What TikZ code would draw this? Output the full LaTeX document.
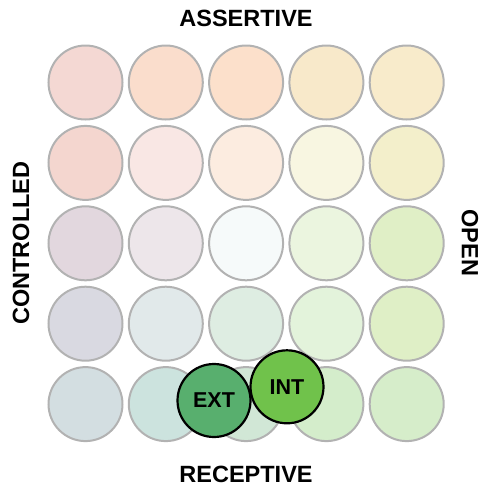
\documentclass[tikz,border=0pt]{standalone}
\usepackage{fontspec}
\setmainfont{Liberation Sans}
\begin{document}
\begin{tikzpicture}[x=1pt,y=-1pt,
  cell/.style={circle, draw=black!30, line width=2pt, minimum size=74pt, inner sep=0pt},
  marker/.style={circle, draw=black, line width=2.2pt, minimum size=73pt, inner sep=0pt,
    font=\fontsize{21.5}{24}\selectfont\bfseries},
  axislabel/.style={font=\fontsize{23.5}{26}\selectfont\bfseries, inner sep=0pt}]
\useasboundingbox (0,0) rectangle (482,488);
% cell colours, row by row from top to bottom
\definecolor{c11}{HTML}{F4D8D3}\definecolor{c12}{HTML}{FADDCC}\definecolor{c13}{HTML}{FCE0CB}\definecolor{c14}{HTML}{F8E9CA}\definecolor{c15}{HTML}{F8EBCB}
\definecolor{c21}{HTML}{F4D6CF}\definecolor{c22}{HTML}{F9E7E4}\definecolor{c23}{HTML}{FCECE0}\definecolor{c24}{HTML}{F8F6E1}\definecolor{c25}{HTML}{F3EFCB}
\definecolor{c31}{HTML}{E2D7DE}\definecolor{c32}{HTML}{EDE6EA}\definecolor{c33}{HTML}{F6FAFA}\definecolor{c34}{HTML}{EBF5DF}\definecolor{c35}{HTML}{E0EFC6}
\definecolor{c41}{HTML}{D9D9E1}\definecolor{c42}{HTML}{E1E9EA}\definecolor{c43}{HTML}{DEEDE2}\definecolor{c44}{HTML}{E3F3DB}\definecolor{c45}{HTML}{DFEFC6}
\definecolor{c51}{HTML}{D3DEE1}\definecolor{c52}{HTML}{CCE3DE}\definecolor{c53}{HTML}{D1E7D6}\definecolor{c54}{HTML}{D4EDCB}\definecolor{c55}{HTML}{D6EDCA}
\definecolor{extgreen}{HTML}{58AF6E}
\definecolor{intgreen}{HTML}{70C24B}
% 5x5 grid of circles
\foreach \r in {1,...,5}{
  \foreach \c in {1,...,5}{
    \node[cell, fill=c\r\c] (cell\r\c) at ({85.5+80.3*(\c-1)},{82.5+80.4*(\r-1)}) {};
  }
}
% axis labels
\node[axislabel] (assertive) at (246,18) {ASSERTIVE};
\node[axislabel] (receptive) at (246,474) {RECEPTIVE};
\node[axislabel, rotate=90] (controlled) at (21,243) {CONTROLLED};
\node[axislabel, rotate=-90] (open) at (470,243) {OPEN};
% position markers
\node[marker, fill=extgreen] (ext) at (214,400.5) {EXT};
\node[marker, fill=intgreen] (int) at (287,386.8) {INT};
\end{tikzpicture}
\end{document}
